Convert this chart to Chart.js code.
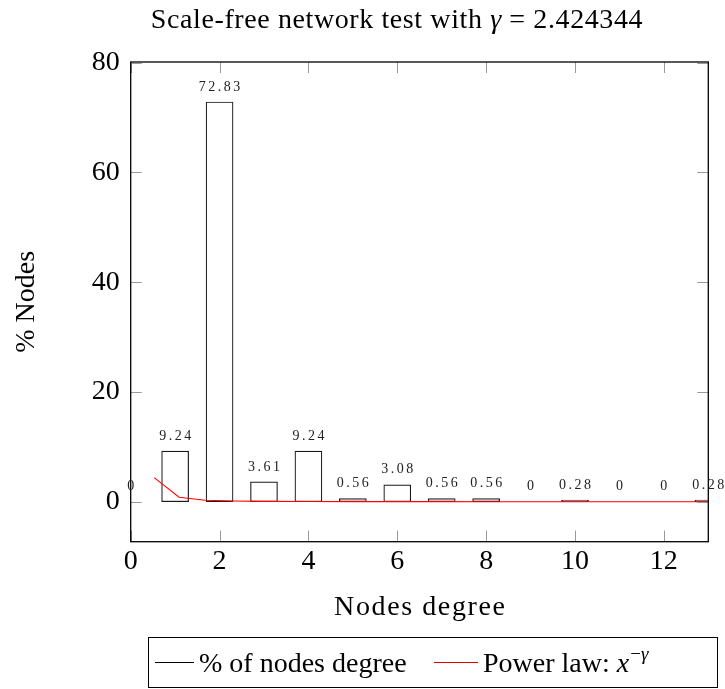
<!DOCTYPE html>
<html><head><meta charset="utf-8">
<script src="https://cdn.jsdelivr.net/npm/chart.js@4"></script>
<style>html,body{margin:0;padding:0;background:#fff}canvas{display:block}</style>
</head><body>
<canvas id="c" width="725" height="689"></canvas>
<script>
// ---- data ----
const degrees = [0, 1, 2, 3, 4, 5, 6, 7, 8, 9, 10, 11, 12, 13];
const nodePercent = [0, 9.24, 72.83, 3.61, 9.24, 0.56, 3.08, 0.56, 0.56, 0, 0.28, 0, 0, 0.28];
const powerLawX = [0.53, 1.09, 1.68, 2.3, 3, 4, 5, 6, 7, 8, 9, 10, 11, 12, 13];
const powerLawY = [4.4, 0.81, 0.28, 0.13, 0.07, 0.035, 0.02, 0.013, 0.009, 0.006, 0.005, 0.004, 0.003, 0.0025, 0.002];
const xTickValues = [0, 2, 4, 6, 8, 10, 12];
const yTickValues = [0, 20, 40, 60, 80];
const xRange = [0, 13];
const yRange = [-7.283, 80.11];
const titleParts = [['Scale-free network test with ', false], ['γ', true], [' = 2.424344', false]];
const xTitle = 'Nodes degree';
const yTitle = '% Nodes';
const seriesNames = ['% of nodes degree', 'Power law: '];

const SERIF = '"Liberation Serif", "Times New Roman", serif';
const FS = 28;

const barData = degrees.map((d, i) => ({x: d, y: nodePercent[i]}));
const lineData = powerLawX.map((d, i) => ({x: d, y: powerLawY[i]}));

const decorations = {
  id: 'decorations',
  afterDatasetsDraw(chart) {
    const {ctx, chartArea: a, scales: {x, y}} = chart;
    ctx.save();
    // inward ticks on all four sides
    ctx.strokeStyle = '#9a9a9a';
    ctx.lineWidth = 1;
    ctx.beginPath();
    const TL = 11;
    xTickValues.forEach(v => {
      const px = Math.round(x.getPixelForValue(v)) + 0.5;
      ctx.moveTo(px, a.bottom); ctx.lineTo(px, a.bottom - TL);
      ctx.moveTo(px, a.top); ctx.lineTo(px, a.top + TL);
    });
    yTickValues.forEach(v => {
      const py = Math.round(y.getPixelForValue(v)) + 0.5;
      ctx.moveTo(a.left, py); ctx.lineTo(a.left + TL, py);
      ctx.moveTo(a.right, py); ctx.lineTo(a.right - TL, py);
    });
    ctx.stroke();
    // frame
    ctx.strokeStyle = '#000';
    ctx.lineWidth = 1.3;
    ctx.strokeRect(a.left, a.top, a.right - a.left, a.bottom - a.top);
    // bar value labels
    const meta = chart.getDatasetMeta(0);
    ctx.fillStyle = '#222';
    ctx.font = '14px ' + SERIF;
    ctx.textAlign = 'center';
    ctx.textBaseline = 'middle';
    const sp = 2.5;
    ctx.letterSpacing = sp + 'px';
    meta.data.forEach((el, i) => {
      const v = nodePercent[i];
      const py = y.getPixelForValue(v) - 15;
      ctx.fillText(String(v), el.x + sp / 2, py);
    });
    ctx.restore();
  },
  afterDraw(chart) {
    const {ctx, chartArea: a} = chart;
    ctx.save();
    ctx.fillStyle = '#000';
    ctx.textBaseline = 'alphabetic';
    ctx.textAlign = 'left';
    // title
    const tsp = 0.6;
    ctx.letterSpacing = tsp + 'px';
    const fontOf = it => (it ? 'italic ' : '') + FS + 'px ' + SERIF;
    let total = 0;
    titleParts.forEach(([t, it]) => { ctx.font = fontOf(it); total += ctx.measureText(t).width; });
    let tx = 397 - total / 2;
    titleParts.forEach(([t, it]) => { ctx.font = fontOf(it); ctx.fillText(t, tx, 28); tx += ctx.measureText(t).width; });
    // x axis title
    ctx.letterSpacing = '1.6px';
    ctx.font = FS + 'px ' + SERIF;
    ctx.textAlign = 'center';
    ctx.fillText(xTitle, (a.left + a.right) / 2 + 0.8, 615);
    ctx.letterSpacing = '0px';
    ctx.textAlign = 'left';
    // legend box
    const L = {left: 148.5, top: 637.5, right: 717.5, bottom: 687.5};
    ctx.strokeStyle = '#000';
    ctx.lineWidth = 1;
    ctx.strokeRect(L.left, L.top, L.right - L.left, L.bottom - L.top);
    const cy = 662.5;
    const base = 672;
    ctx.lineWidth = 1;
    ctx.strokeStyle = '#000';
    ctx.beginPath(); ctx.moveTo(155, cy); ctx.lineTo(194, cy); ctx.stroke();
    ctx.font = FS + 'px ' + SERIF;
    ctx.fillText(seriesNames[0], 199, base);
    ctx.strokeStyle = '#e00000';
    ctx.beginPath(); ctx.moveTo(434, cy); ctx.lineTo(478, cy); ctx.stroke();
    let lx = 483;
    ctx.font = FS + 'px ' + SERIF;
    ctx.fillText(seriesNames[1], lx, base);
    lx += ctx.measureText(seriesNames[1]).width;
    ctx.font = 'italic ' + FS + 'px ' + SERIF;
    ctx.fillText('x', lx, base);
    lx += ctx.measureText('x').width + 1;
    ctx.font = '19px ' + SERIF;
    ctx.fillText('−', lx, base - 12);
    lx += ctx.measureText('−').width;
    ctx.font = 'italic 19px ' + SERIF;
    ctx.fillText('γ', lx, base - 12);
    ctx.restore();
  }
};

new Chart(document.getElementById('c'), {
  type: 'bar',
  data: {
    datasets: [
      {
        type: 'bar',
        label: seriesNames[0],
        data: barData,
        backgroundColor: '#ffffff',
        borderColor: '#1a1a1a',
        borderWidth: 1.2,
        borderSkipped: false,
        barThickness: 27,
        order: 2
      },
      {
        type: 'line',
        label: seriesNames[1],
        data: lineData,
        borderColor: '#ff0000',
        borderWidth: 1.1,
        pointRadius: 0,
        tension: 0,
        fill: false,
        order: 1
      }
    ]
  },
  options: {
    responsive: false,
    animation: false,
    events: [],
    layout: {padding: {top: 62, right: 16.7, bottom: 0, left: 0}},
    plugins: {legend: {display: false}, tooltip: {enabled: false}, title: {display: false}},
    scales: {
      x: {
        type: 'linear',
        min: xRange[0], max: xRange[1],
        offset: false,
        grid: {display: false, drawTicks: false, tickLength: 0},
        border: {display: false},
        afterBuildTicks: s => { s.ticks = xTickValues.map(v => ({value: v})); },
        afterFit: s => { s.height = 147.3; },
        ticks: {font: {family: SERIF, size: FS}, color: '#000', padding: 3, maxRotation: 0, autoSkip: false},
        title: {display: false}
      },
      y: {
        type: 'linear',
        min: yRange[0], max: yRange[1],
        grid: {display: false, drawTicks: false, tickLength: 0},
        border: {display: false},
        afterBuildTicks: s => { s.ticks = yTickValues.map(v => ({value: v})); },
        afterFit: s => { s.width = 130.7; },
        ticks: {font: {family: SERIF, size: FS}, color: '#000', padding: 11},
        title: {display: true, text: yTitle, font: {family: SERIF, size: FS}, color: '#000', padding: {top: 9.5, bottom: 0}}
      }
    }
  },
  plugins: [decorations]
});
</script>
</body></html>
